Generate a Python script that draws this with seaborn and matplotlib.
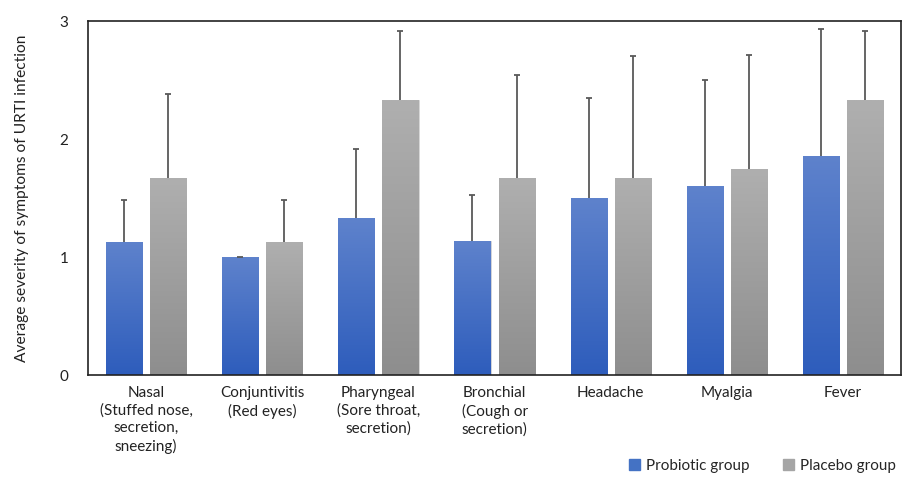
import matplotlib
matplotlib.use('Agg')
import matplotlib.pyplot as plt
import seaborn as sns
import pandas as pd
import numpy as np
from matplotlib.colors import LinearSegmentedColormap

# Data
categories = ['Nasal\n(Stuffed nose,\nsecretion,\nsneezing)', 'Conjuntivitis\n(Red eyes)',
              'Pharyngeal\n(Sore throat,\nsecretion)', 'Bronchial\n(Cough or\nsecretion)',
              'Headache', 'Myalgia', 'Fever']
groups = ['Probiotic group', 'Placebo group']
probiotic = [1.13, 1.00, 1.33, 1.14, 1.50, 1.60, 1.86]
placebo = [1.67, 1.13, 2.33, 1.67, 1.67, 1.75, 2.33]
probiotic_sd = [0.35, 0.0, 0.59, 0.39, 0.85, 0.90, 1.07]
placebo_sd = [0.71, 0.35, 0.59, 0.87, 1.03, 0.96, 0.59]

df = pd.DataFrame({
    'category': categories * 2,
    'group': [groups[0]] * 7 + [groups[1]] * 7,
    'value': probiotic + placebo,
    'sd': probiotic_sd + placebo_sd,
})

sns.set_style('white')
plt.rcParams['font.family'] = ['Lato', 'DejaVu Sans']

fig = plt.figure(figsize=(9.02, 4.79), dpi=100)
ax = fig.add_axes([0.0976, 0.217, 0.9014, 0.739])

palette = {groups[0]: '#4472C4', groups[1]: '#A5A5A5'}
sns.barplot(data=df, x='category', y='value', hue='group', order=categories,
            hue_order=groups, palette=palette, width=0.76, gap=0.18,
            errorbar=None, legend=False, ax=ax)

# gradient fills and upward-only error bars
grads = {groups[0]: ('#2E5DBC', '#5E82CC'), groups[1]: ('#8E8E8E', '#AFAFAF')}
for container, g in zip(ax.containers, groups):
    cmap = LinearSegmentedColormap.from_list(g, grads[g])
    sub = df[df['group'] == g]
    for patch, (_, row) in zip(container.patches, sub.iterrows()):
        x0, y0 = patch.get_x(), patch.get_y()
        w, h = patch.get_width(), patch.get_height()
        img = ax.imshow(np.linspace(0, 1, 100).reshape(-1, 1), cmap=cmap, origin='lower',
                        extent=[x0, x0 + w, y0, y0 + h], aspect='auto', zorder=2)
        img.set_clip_path(patch)
        patch.set_edgecolor('#D9D9D9')
        patch.set_linewidth(0.6)
        eb = ax.errorbar(x0 + w / 2, row['value'], yerr=[[0], [row['sd']]], fmt='none',
                         ecolor='#595959', elinewidth=1.3, capsize=2.5, capthick=1.3,
                         zorder=3)
        eb[1][0].set_visible(False)

ax.set_xlim(-0.5, 6.5)
ax.set_ylim(0, 3)
ax.set_yticks([0, 1, 2, 3])
ax.tick_params(axis='both', length=0, labelsize=11, colors='#222222')
ax.tick_params(axis='x', pad=8)
ax.tick_params(axis='y', pad=14)
for lbl in ax.get_xticklabels():
    lbl.set_linespacing(1.3)
ax.set_xlabel('')
ax.set_ylabel('Average severity of symptoms of URTI infection', fontsize=11.2,
              color='#222222', labelpad=22)
for s in ax.spines.values():
    s.set_visible(True)
    s.set_color('#222222')
    s.set_linewidth(1.2)

handles = [plt.Rectangle((0, 0), 1, 1, color='#4472C4'),
           plt.Rectangle((0, 0), 1, 1, color='#A5A5A5')]
fig.legend(handles, groups, loc='center', bbox_to_anchor=(0.845, 0.028), ncol=2,
           frameon=False, fontsize=11, handlelength=0.7, handleheight=0.7,
           columnspacing=2.2, handletextpad=0.4)

fig.savefig('out.png', dpi=100)
